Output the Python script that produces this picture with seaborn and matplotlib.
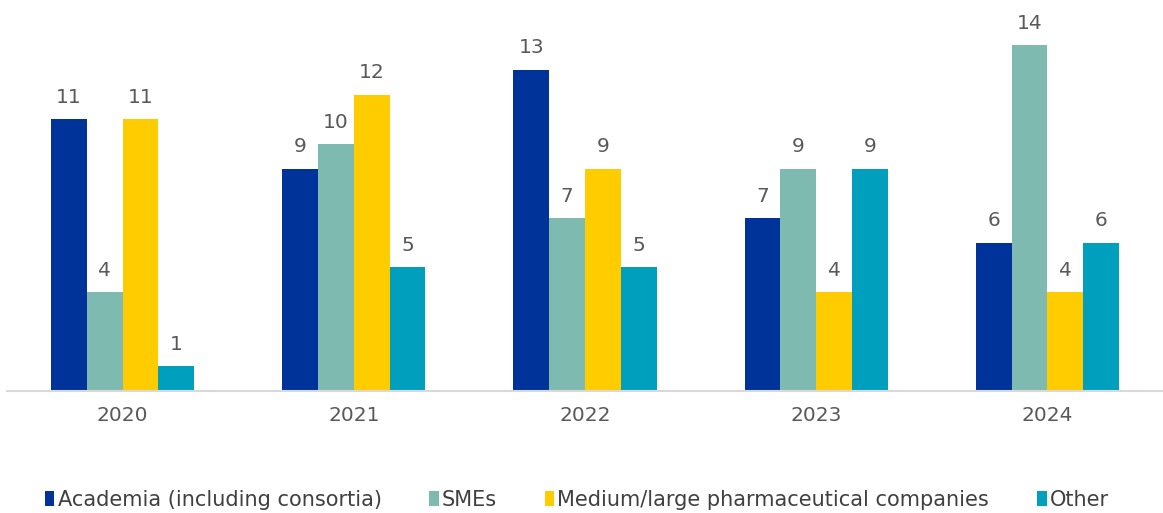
import pandas as pd
import seaborn as sns
import matplotlib.pyplot as plt

years = ["2020", "2021", "2022", "2023", "2024"]
categories = ["Academia (including consortia)", "SMEs",
              "Medium/large pharmaceutical companies", "Other"]
academia = [11, 9, 13, 7, 6]
smes = [4, 10, 7, 9, 14]
pharma = [11, 12, 9, 4, 4]
other = [1, 5, 5, 9, 6]
colors = ["#003399", "#7FBAB1", "#FFCC00", "#009FBD"]

rows = []
for cat, vals in zip(categories, [academia, smes, pharma, other]):
    for y, v in zip(years, vals):
        rows.append({"year": y, "category": cat, "value": v})
df = pd.DataFrame(rows)

sns.set_style("white")
plt.rcParams["font.family"] = ["DejaVu Sans"]

fig = plt.figure(figsize=(11.63, 5.13), dpi=100)
ax = fig.add_axes([0.006, 0.238, 0.994, 0.746])
sns.barplot(data=df, x="year", y="value", hue="category", palette=colors,
            width=0.62, gap=0, saturation=1, linewidth=0, ax=ax)

for c in ax.containers:
    ax.bar_label(c, padding=9, fontsize=14.5, color="#595959")

ax.set_ylim(0, 15.5)
ax.set_xlim(-0.5, 4.5)
ax.set_xlabel("")
ax.set_ylabel("")
ax.set_yticks([])
ax.tick_params(axis="x", length=0, labelsize=14.5, labelcolor="#595959", pad=11)
for s in ["top", "right", "left"]:
    ax.spines[s].set_visible(False)
ax.spines["bottom"].set_color("#d9d9d9")
ax.spines["bottom"].set_linewidth(1.5)

ax.legend(loc="center", bbox_to_anchor=(0.493, -0.285), ncol=4, frameon=False,
          fontsize=15, handlelength=0.45, handleheight=0.75, handletextpad=0.15,
          columnspacing=2.3, labelcolor="#404040")

fig.savefig("out.png", dpi=100)
